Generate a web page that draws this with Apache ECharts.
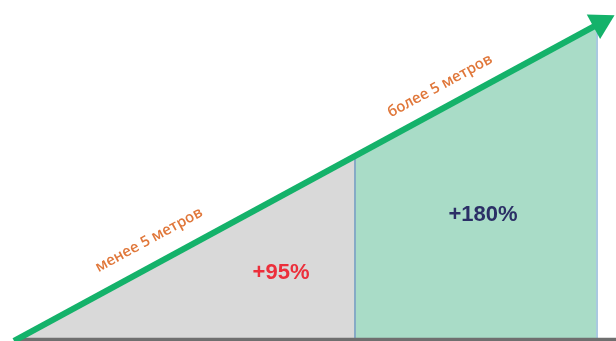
<!DOCTYPE html>
<html>
<head>
<meta charset="utf-8">
<script src="https://cdn.jsdelivr.net/npm/echarts@6/dist/echarts.min.js"></script>
<style>html,body{margin:0;padding:0;background:#fff;}#c{width:616px;height:341px;}</style>
</head>
<body>
<div id="c"></div>
<script>
// Diagram units: x = distance along base, y = height of ramp
const zoneNames = ['менее 5 метров', 'более 5 метров'];
const growthLabels = ['+95%', '+180%'];
const growthColors = ['#ec2f3b', '#2b2f66'];
const zoneBounds = [14, 355, 597];          // x boundaries of the zones
const rampHeights = [0, 185, 316];          // ramp height at each boundary
const arrowStart = [14, 0];
const arrowEnd = [604, 320];
const baseLine = [20, 616];
const zoneLabelPos = [[149, 101], [440, 255]];
const growthLabelPos = [[281, 68], [483, 126]];

const chart = echarts.init(document.getElementById('c'), null, {renderer: 'canvas'});
const angle = Math.atan2(arrowEnd[1] - arrowStart[1], arrowEnd[0] - arrowStart[0]) * 180 / Math.PI;

const option = {
  animation: false,
  grid: {left: 0, right: 0, top: 0, bottom: 0},
  xAxis: {type: 'value', min: 0, max: 616, show: false},
  yAxis: {type: 'value', min: 0, max: 341, show: false},
  series: [
    {
      type: 'line', symbol: 'none', lineStyle: {width: 0},
      areaStyle: {color: '#d9d9d9', opacity: 1},
      data: [[zoneBounds[0], rampHeights[0]], [zoneBounds[1], rampHeights[1]]],
      z: 1
    },
    {
      type: 'line', symbol: 'none', lineStyle: {width: 0},
      areaStyle: {color: '#a9dcc7', opacity: 1},
      data: [[zoneBounds[1], rampHeights[1]], [zoneBounds[2], rampHeights[2]]],
      z: 1
    },
    {
      type: 'line', symbol: 'none', lineStyle: {width: 2, color: '#86aac6'},
      data: [[zoneBounds[1], 2], [zoneBounds[1], rampHeights[1]]],
      z: 2
    },
    {
      type: 'line', symbol: 'none', lineStyle: {width: 2, color: '#a9c9e0'},
      data: [[zoneBounds[2], 2], [zoneBounds[2], rampHeights[2]]],
      z: 2
    },
    {
      type: 'line', symbol: 'none', lineStyle: {width: 3.5, color: '#6f6f6f'},
      data: [[baseLine[0], 1.5], [baseLine[1], 1.5]],
      z: 3
    },
    {
      type: 'line', symbol: 'none', lineStyle: {width: 0}, data: [],
      markLine: {
        silent: true, animation: false,
        symbol: ['none', 'triangle'], symbolSize: [28, 24],
        label: {show: false},
        lineStyle: {type: 'solid', width: 6, color: '#14b26a'},
        data: [[{coord: arrowStart}, {coord: arrowEnd}]]
      },
      z: 5
    },
    {
      type: 'scatter', symbolSize: 0,
      itemStyle: {opacity: 1},
      data: zoneLabelPos.map((p, i) => ({value: p, name: zoneNames[i]})),
      label: {
        show: true, position: 'inside', rotate: angle,
        formatter: p => p.name,
        color: '#e0773a', fontSize: 15, fontWeight: 600, fontFamily: 'Open Sans, Liberation Sans, sans-serif'
      },
      z: 6
    },
    {
      type: 'scatter', symbolSize: 0,
      itemStyle: {opacity: 1},
      data: growthLabelPos.map((p, i) => ({value: p, name: growthLabels[i], label: {color: growthColors[i]}})),
      label: {
        show: true, position: 'inside',
        formatter: p => p.name,
        fontSize: 22, fontWeight: 'bold', fontFamily: 'Liberation Sans, Arial, sans-serif'
      },
      z: 6
    }
  ]
};
chart.setOption(option);
</script>
</body>
</html>
